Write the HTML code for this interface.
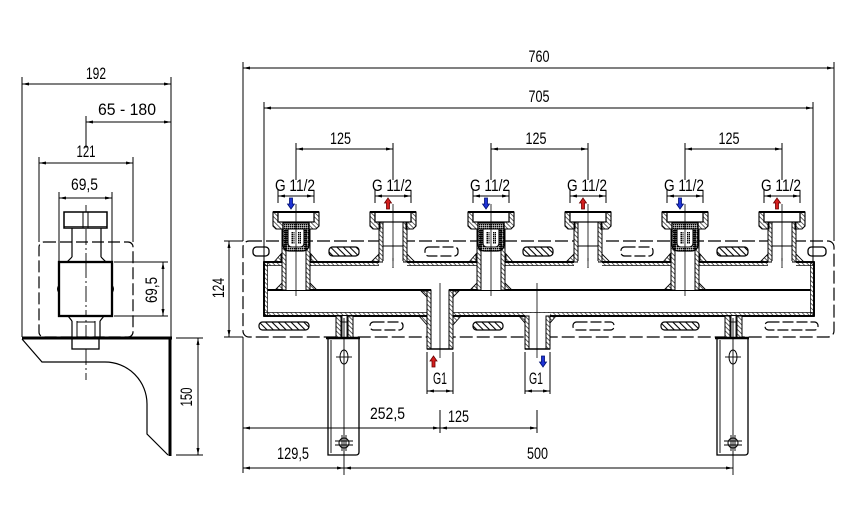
<!DOCTYPE html>
<html><head><meta charset="utf-8">
<style>html,body{margin:0;padding:0;background:#fff}svg{display:block}</style>
</head><body>
<svg width="868" height="506" viewBox="0 0 868 506" xmlns="http://www.w3.org/2000/svg">
<defs>
<pattern id="h" width="3.2" height="3.2" patternUnits="userSpaceOnUse" patternTransform="rotate(-45)"><line x1="0.5" y1="0" x2="0.5" y2="3.2" stroke="#000" stroke-width="0.6"/></pattern>
<pattern id="h2" width="4.5" height="4.5" patternUnits="userSpaceOnUse" patternTransform="rotate(-45)"><line x1="0.5" y1="0" x2="0.5" y2="4.5" stroke="#000" stroke-width="1.1"/></pattern>
<pattern id="dd" width="2" height="2" patternUnits="userSpaceOnUse"><rect width="1.5" height="1.5" fill="#000"/></pattern>
<marker id="a" markerUnits="userSpaceOnUse" markerWidth="7" markerHeight="5" refX="7" refY="2.5" orient="auto-start-reverse"><path d="M0,1 L7,2.5 L0,4 Z" fill="#000"/></marker>

<g id="nut">
  <polygon points="-23,212 -18,212 -18,222 -13,222 -13,229 -20,229 -23,226" fill="url(#h)" stroke="#000" stroke-width="1.1"/>
  <polygon points="23,212 18,212 18,222 13,222 13,229 20,229 23,226" fill="url(#h)" stroke="#000" stroke-width="1.1"/>
  <rect x="-18" y="212" width="36" height="10" fill="#fff" stroke="#000" stroke-width="1.2"/>
  <line x1="-23" y1="212" x2="23" y2="212" stroke="#000" stroke-width="2"/>
</g>

<g id="blue">
  <rect x="-14" y="222" width="28" height="68" fill="#fff"/>
  <polygon points="-15,254 -15,262 -22,262" fill="url(#h)" stroke="#000" stroke-width="0.9"/>
  <polygon points="15,254 15,262 22,262" fill="url(#h)" stroke="#000" stroke-width="0.9"/>
  <polygon points="-14,283 -14,290 -21,290" fill="url(#h)" stroke="#000" stroke-width="0.9"/>
  <polygon points="14,283 14,290 21,290" fill="url(#h)" stroke="#000" stroke-width="0.9"/>
  <rect x="-14" y="229" width="4" height="61" fill="url(#h)" stroke="#000" stroke-width="1"/>
  <rect x="10" y="229" width="4" height="61" fill="url(#h)" stroke="#000" stroke-width="1"/>
  <path d="M-13,223 L13,223 L13,244 Q13,251 6,251 L-6,251 Q-13,251 -13,244 Z" fill="url(#dd)" stroke="#000" stroke-width="1.3"/>
  <path d="M-8,229 L8,229 L8,243 Q8,247 4,247 L-4,247 Q-8,247 -8,243 Z" fill="#fff" stroke="#000" stroke-width="1.1"/>
  <rect x="-5" y="232" width="3.5" height="12" fill="url(#dd)"/>
  <rect x="1.5" y="232" width="3.5" height="12" fill="url(#dd)"/>
  <use href="#nut"/>
  <line x1="0" y1="204" x2="0" y2="296" stroke="#000" stroke-width="0.8"/>
</g>

<g id="red">
  <rect x="-14" y="222" width="28" height="45" fill="#fff"/>
  <polygon points="-14,254 -14,262 -22,262" fill="url(#h)" stroke="#000" stroke-width="0.9"/>
  <polygon points="14,254 14,262 22,262" fill="url(#h)" stroke="#000" stroke-width="0.9"/>
  <rect x="-14" y="222" width="4" height="40" fill="url(#h)" stroke="#000" stroke-width="1"/>
  <rect x="10" y="222" width="4" height="40" fill="url(#h)" stroke="#000" stroke-width="1"/>
  <line x1="-10" y1="246" x2="10" y2="246" stroke="#000" stroke-width="1"/>
  <use href="#nut"/>
  <line x1="0" y1="204" x2="0" y2="268" stroke="#000" stroke-width="0.8"/>
</g>

<g id="sup">
  <rect x="-8" y="316" width="17" height="22" fill="#fff"/>
  <rect x="-8" y="316" width="5" height="22" fill="url(#h)" stroke="#000" stroke-width="1"/>
  <rect x="4" y="316" width="5" height="22" fill="url(#h)" stroke="#000" stroke-width="1"/>
  <line x1="-2" y1="316" x2="-2" y2="338" stroke="#000" stroke-width="0.9"/>
  <line x1="3" y1="316" x2="3" y2="338" stroke="#000" stroke-width="0.9"/>
  <line x1="-3" y1="322" x2="4" y2="322" stroke="#000" stroke-width="0.9"/>
  <path d="M-16,338 L15,338 L15,452 Q15,455 12,455 L-16,455 Z" fill="#fff" stroke="#000" stroke-width="1.3"/>
  <line x1="-18" y1="338" x2="16" y2="338" stroke="#000" stroke-width="2.5"/>
  <line x1="-13" y1="340" x2="-13" y2="453" stroke="#000" stroke-width="0.9"/>
  <ellipse cx="0" cy="357" rx="4" ry="7" fill="none" stroke="#000" stroke-width="1"/>
  <line x1="-8" y1="357" x2="8" y2="357" stroke="#000" stroke-width="0.9"/>
  <circle cx="0" cy="443" r="5" fill="none" stroke="#000" stroke-width="1"/>
  <line x1="-9" y1="441" x2="9" y2="441" stroke="#000" stroke-width="0.9"/>
  <line x1="-9" y1="445" x2="9" y2="445" stroke="#000" stroke-width="0.9"/>
  <line x1="-2" y1="435" x2="-2" y2="451" stroke="#000" stroke-width="0.9"/>
  <line x1="2" y1="435" x2="2" y2="451" stroke="#000" stroke-width="0.9"/>
  <line x1="0" y1="318" x2="0" y2="475" stroke="#000" stroke-width="0.9"/>
</g>
</defs>

<rect width="868" height="506" fill="#fff"/>

<!-- ================= LEFT SIDE VIEW ================= -->
<g stroke="#000" fill="none">
  <line x1="22" y1="77" x2="22" y2="337" stroke-width="1"/>
  <line x1="171" y1="77" x2="171" y2="337" stroke-width="1"/>
  <line x1="86" y1="116" x2="86" y2="148" stroke-width="1"/>
  <line x1="39" y1="157" x2="39" y2="242" stroke-width="1"/>
  <line x1="133" y1="157" x2="133" y2="242" stroke-width="1"/>
  <line x1="59" y1="192" x2="59" y2="262" stroke-width="1"/>
  <line x1="112" y1="192" x2="112" y2="262" stroke-width="1"/>
  <line x1="22" y1="84" x2="171" y2="84" stroke-width="1" marker-start="url(#a)" marker-end="url(#a)"/>
  <line x1="86" y1="122" x2="171" y2="122" stroke-width="1" marker-start="url(#a)" marker-end="url(#a)"/>
  <line x1="39" y1="163" x2="133" y2="163" stroke-width="1" marker-start="url(#a)" marker-end="url(#a)"/>
  <line x1="59" y1="198" x2="112" y2="198" stroke-width="1" marker-start="url(#a)" marker-end="url(#a)"/>
  <rect x="39" y="242" width="94" height="95" rx="5" stroke-width="1.2" stroke-dasharray="12 4"/>
  <line x1="86" y1="205" x2="86" y2="380" stroke-width="0.9" stroke-dasharray="16 3 2 3"/>
  <rect x="64" y="212" width="43" height="16" fill="#fff" stroke-width="1.5"/>
  <line x1="83" y1="212" x2="83" y2="228" stroke-width="1"/>
  <line x1="88" y1="212" x2="88" y2="228" stroke-width="1"/>
  <line x1="64" y1="226.5" x2="107" y2="226.5" stroke-width="0.8"/>
  <line x1="72" y1="228" x2="72" y2="257" stroke-width="1.2"/>
  <line x1="101" y1="228" x2="101" y2="257" stroke-width="1.2"/>
  <line x1="72" y1="257" x2="67" y2="262" stroke-width="1.2"/>
  <line x1="101" y1="257" x2="106" y2="262" stroke-width="1.2"/>
  <rect x="59" y="262" width="53" height="54" fill="#fff" stroke-width="2.3"/>
  <path d="M59,285 Q56,289 59,293" stroke-width="1"/>
  <path d="M112,285 Q115,289 112,293" stroke-width="1"/>
  <line x1="86" y1="262" x2="86" y2="316" stroke-width="0.9" stroke-dasharray="16 3 2 3"/>
  <line x1="68" y1="316" x2="72" y2="321" stroke-width="1.2"/>
  <line x1="104" y1="316" x2="100" y2="321" stroke-width="1.2"/>
  <line x1="72" y1="321" x2="72" y2="338" stroke-width="1.2"/>
  <line x1="100" y1="321" x2="100" y2="338" stroke-width="1.2"/>
  <line x1="77" y1="321" x2="77" y2="338" stroke-width="1"/>
  <line x1="95" y1="321" x2="95" y2="338" stroke-width="1"/>
  <line x1="77" y1="322" x2="95" y2="322" stroke-width="1"/>
  <rect x="72" y="338" width="27" height="11" fill="#fff" stroke-width="1.3"/>
  <line x1="22" y1="338" x2="172" y2="338" stroke-width="3"/>
  <line x1="170" y1="338" x2="170" y2="456" stroke-width="3"/>
  <path d="M22,339 L42,362 L105,362 A42,42 0 0 1 147,404 L147,434 L168,455" stroke-width="1.2"/>
  <line x1="114" y1="262" x2="168" y2="262" stroke-width="1"/>
  <line x1="114" y1="316" x2="168" y2="316" stroke-width="1"/>
  <line x1="163" y1="262" x2="163" y2="316" stroke-width="1" marker-start="url(#a)" marker-end="url(#a)"/>
  <line x1="176" y1="338" x2="203" y2="338" stroke-width="1"/>
  <line x1="176" y1="455" x2="203" y2="455" stroke-width="1"/>
  <line x1="198" y1="338" x2="198" y2="455" stroke-width="1" marker-start="url(#a)" marker-end="url(#a)"/>
</g>

<!-- ================= MAIN VIEW ================= -->
<g stroke="#000" fill="none">
  <rect x="243" y="241" width="591" height="96" rx="6" stroke-width="1.2" stroke-dasharray="13 4"/>
  <rect x="253" y="247" width="16" height="9" rx="3.5" fill="#fff" stroke-width="1.3"/>
  <rect x="329" y="247" width="30" height="9" rx="3.5" fill="url(#h2)" stroke-width="1.2"/>
  <rect x="425" y="247" width="33" height="9" rx="3.5" fill="#fff" stroke-width="1.2" stroke-dasharray="11 3"/>
  <rect x="523" y="247" width="30" height="9" rx="3.5" fill="url(#h2)" stroke-width="1.2"/>
  <rect x="621" y="247" width="32" height="9" rx="3.5" fill="#fff" stroke-width="1.2" stroke-dasharray="11 3"/>
  <rect x="717" y="247" width="31" height="9" rx="3.5" fill="url(#h2)" stroke-width="1.2"/>
  <rect x="808" y="247" width="18" height="9" rx="3.5" fill="#fff" stroke-width="1.3"/>
  <rect x="259" y="322" width="50" height="8" rx="3.5" fill="url(#h2)" stroke-width="1.2"/>
  <rect x="370" y="322" width="33" height="8" rx="3.5" fill="#fff" stroke-width="1.2" stroke-dasharray="11 3"/>
  <rect x="473" y="322" width="30" height="8" rx="3.5" fill="url(#h2)" stroke-width="1.2"/>
  <rect x="573" y="322" width="41" height="8" rx="3.5" fill="#fff" stroke-width="1.2" stroke-dasharray="11 3"/>
  <rect x="661" y="322" width="38" height="8" rx="3.5" fill="url(#h2)" stroke-width="1.2"/>
  <rect x="765" y="322" width="53" height="8" rx="3.5" fill="#fff" stroke-width="1.2" stroke-dasharray="11 3"/>

  <rect x="264" y="262" width="550" height="54" fill="#fff" stroke-width="1.8"/>
  <rect x="264" y="262" width="550" height="3.5" fill="url(#h)" stroke-width="0.7"/>
  <rect x="264" y="312.5" width="550" height="3.5" fill="url(#h)" stroke-width="0.7"/>
  <rect x="264" y="262" width="3.5" height="54" fill="url(#h)" stroke-width="0.7"/>
  <rect x="810.5" y="262" width="3.5" height="54" fill="url(#h)" stroke-width="0.7"/>
  <line x1="264" y1="262" x2="814" y2="262" stroke-width="1.8"/>
  <line x1="264" y1="316" x2="814" y2="316" stroke-width="1.8"/>
  <line x1="264" y1="262" x2="264" y2="316" stroke-width="1.8"/>
  <line x1="814" y1="262" x2="814" y2="316" stroke-width="1.8"/>
  <line x1="267.5" y1="290" x2="810.5" y2="290" stroke-width="2"/>
</g>

<use href="#blue" x="296"/>
<use href="#red" x="393"/>
<use href="#blue" x="491"/>
<use href="#red" x="588"/>
<use href="#blue" x="685"/>
<use href="#red" x="782"/>
<g fill="#fff">
  <rect x="383" y="261" width="20" height="6"/>
  <rect x="578" y="261" width="20" height="6"/>
  <rect x="772" y="261" width="20" height="6"/>
</g>
<g stroke="#000" stroke-width="0.8">
  <line x1="393" y1="258" x2="393" y2="268"/>
  <line x1="588" y1="258" x2="588" y2="268"/>
  <line x1="782" y1="258" x2="782" y2="268"/>
</g>

<g stroke="#000">
  <rect x="427" y="288" width="26" height="61" fill="#fff" stroke="none"/>
  <polygon points="427,291 427,297 421,291" fill="url(#h)" stroke-width="0.9"/>
  <polygon points="453,291 453,297 459,291" fill="url(#h)" stroke-width="0.9"/>
  <polygon points="427,316 427,325 419,316" fill="url(#h)" stroke-width="0.9"/>
  <polygon points="453,316 453,325 461,316" fill="url(#h)" stroke-width="0.9"/>
  <rect x="427" y="290" width="4" height="59" fill="url(#h)" stroke-width="1"/>
  <rect x="449" y="290" width="4" height="59" fill="url(#h)" stroke-width="1"/>
  <line x1="427" y1="349" x2="453" y2="349" stroke-width="1.5"/>
  <line x1="421" y1="290" x2="431" y2="290" stroke-width="2"/>
  <line x1="449" y1="290" x2="459" y2="290" stroke-width="2"/>
  <line x1="440" y1="283" x2="440" y2="358" stroke-width="0.8"/>

  <rect x="525" y="313" width="25" height="36" fill="#fff" stroke="none"/>
  <polygon points="525,316 525,323 519,316" fill="url(#h)" stroke-width="0.9"/>
  <polygon points="550,316 550,323 556,316" fill="url(#h)" stroke-width="0.9"/>
  <rect x="525" y="316" width="4" height="33" fill="url(#h)" stroke-width="1"/>
  <rect x="546" y="316" width="4" height="33" fill="url(#h)" stroke-width="1"/>
  <line x1="525" y1="349" x2="550" y2="349" stroke-width="1.5"/>
  <line x1="537" y1="283" x2="537" y2="358" stroke-width="0.8"/>
</g>

<use href="#sup" x="344"/>
<use href="#sup" x="733"/>

<g stroke="#000" stroke-width="1" fill="none">
  <line x1="243" y1="62" x2="243" y2="241"/>
  <line x1="243" y1="337" x2="243" y2="473"/>
  <line x1="834" y1="62" x2="834" y2="241"/>
  <line x1="243" y1="68" x2="834" y2="68" marker-start="url(#a)" marker-end="url(#a)"/>
  <line x1="264" y1="102" x2="264" y2="262"/>
  <line x1="813" y1="102" x2="813" y2="262"/>
  <line x1="264" y1="108" x2="813" y2="108" marker-start="url(#a)" marker-end="url(#a)"/>
  <line x1="296" y1="143" x2="296" y2="180"/>
  <line x1="393" y1="143" x2="393" y2="180"/>
  <line x1="296" y1="149" x2="393" y2="149" marker-start="url(#a)" marker-end="url(#a)"/>
  <line x1="491" y1="143" x2="491" y2="180"/>
  <line x1="588" y1="143" x2="588" y2="180"/>
  <line x1="491" y1="149" x2="588" y2="149" marker-start="url(#a)" marker-end="url(#a)"/>
  <line x1="685" y1="143" x2="685" y2="180"/>
  <line x1="782" y1="143" x2="782" y2="180"/>
  <line x1="685" y1="149" x2="782" y2="149" marker-start="url(#a)" marker-end="url(#a)"/>
  <g>
    <line x1="278" y1="190" x2="278" y2="203"/><line x1="314" y1="190" x2="314" y2="203"/>
    <line x1="278" y1="196" x2="314" y2="196" marker-start="url(#a)" marker-end="url(#a)"/>
    <line x1="375" y1="190" x2="375" y2="203"/><line x1="411" y1="190" x2="411" y2="203"/>
    <line x1="375" y1="196" x2="411" y2="196" marker-start="url(#a)" marker-end="url(#a)"/>
    <line x1="473" y1="190" x2="473" y2="203"/><line x1="509" y1="190" x2="509" y2="203"/>
    <line x1="473" y1="196" x2="509" y2="196" marker-start="url(#a)" marker-end="url(#a)"/>
    <line x1="570" y1="190" x2="570" y2="203"/><line x1="606" y1="190" x2="606" y2="203"/>
    <line x1="570" y1="196" x2="606" y2="196" marker-start="url(#a)" marker-end="url(#a)"/>
    <line x1="667" y1="190" x2="667" y2="203"/><line x1="703" y1="190" x2="703" y2="203"/>
    <line x1="667" y1="196" x2="703" y2="196" marker-start="url(#a)" marker-end="url(#a)"/>
    <line x1="764" y1="190" x2="764" y2="203"/><line x1="800" y1="190" x2="800" y2="203"/>
    <line x1="764" y1="196" x2="800" y2="196" marker-start="url(#a)" marker-end="url(#a)"/>
  </g>
  <line x1="224" y1="241" x2="243" y2="241"/>
  <line x1="224" y1="337" x2="243" y2="337"/>
  <line x1="229" y1="241" x2="229" y2="337" marker-start="url(#a)" marker-end="url(#a)"/>
  <line x1="427" y1="352" x2="427" y2="394"/><line x1="453" y1="352" x2="453" y2="394"/>
  <line x1="427" y1="391" x2="453" y2="391" marker-start="url(#a)" marker-end="url(#a)"/>
  <line x1="525" y1="352" x2="525" y2="394"/><line x1="550" y1="352" x2="550" y2="394"/>
  <line x1="525" y1="391" x2="550" y2="391" marker-start="url(#a)" marker-end="url(#a)"/>
  <line x1="440" y1="410" x2="440" y2="433"/>
  <line x1="537" y1="410" x2="537" y2="433"/>
  <line x1="243" y1="428" x2="440" y2="428" marker-start="url(#a)" marker-end="url(#a)"/>
  <line x1="440" y1="428" x2="537" y2="428" marker-start="url(#a)" marker-end="url(#a)"/>
  <line x1="243" y1="468" x2="344" y2="468" marker-start="url(#a)" marker-end="url(#a)"/>
  <line x1="344" y1="468" x2="733" y2="468" marker-start="url(#a)" marker-end="url(#a)"/>
</g>

<g stroke-width="0.8" stroke-linejoin="miter">
  <path d="M291,209 L287.5,204 L289.5,204 L289.5,198 L292.5,198 L292.5,204 L294.5,204 Z" fill="#1f33d6" stroke="#001070"/>
  <path d="M388,198 L391.5,203 L389.5,203 L389.5,209 L386.5,209 L386.5,203 L384.5,203 Z" fill="#d41e1e" stroke="#6a0000"/>
  <path d="M486,209 L482.5,204 L484.5,204 L484.5,198 L487.5,198 L487.5,204 L489.5,204 Z" fill="#1f33d6" stroke="#001070"/>
  <path d="M583,198 L586.5,203 L584.5,203 L584.5,209 L581.5,209 L581.5,203 L579.5,203 Z" fill="#d41e1e" stroke="#6a0000"/>
  <path d="M680,209 L676.5,204 L678.5,204 L678.5,198 L681.5,198 L681.5,204 L683.5,204 Z" fill="#1f33d6" stroke="#001070"/>
  <path d="M777,198 L780.5,203 L778.5,203 L778.5,209 L775.5,209 L775.5,203 L773.5,203 Z" fill="#d41e1e" stroke="#6a0000"/>
  <path d="M433.5,356 L437,361 L435,361 L435,367 L432,367 L432,361 L430,361 Z" fill="#d41e1e" stroke="#6a0000"/>
  <path d="M543,367 L539.5,362 L541.5,362 L541.5,356 L544.5,356 L544.5,362 L546.5,362 Z" fill="#1f33d6" stroke="#001070"/>
</g>

<g font-family="'Liberation Sans', sans-serif" font-size="17" text-anchor="middle" fill="#000">
  <text x="96" y="79" textLength="20" lengthAdjust="spacingAndGlyphs">192</text>
  <text x="127" y="115" textLength="58" lengthAdjust="spacingAndGlyphs">65 - 180</text>
  <text x="86" y="157" textLength="19" lengthAdjust="spacingAndGlyphs">121</text>
  <text x="84.5" y="190" textLength="27" lengthAdjust="spacingAndGlyphs">69,5</text>
  <text transform="translate(157,290) rotate(-90)" x="0" y="0" textLength="26" lengthAdjust="spacingAndGlyphs">69,5</text>
  <text transform="translate(192,397) rotate(-90)" x="0" y="0" textLength="19" lengthAdjust="spacingAndGlyphs">150</text>
  <text transform="translate(224,288) rotate(-90)" x="0" y="0" textLength="20" lengthAdjust="spacingAndGlyphs">124</text>

  <text x="539" y="62" textLength="21" lengthAdjust="spacingAndGlyphs">760</text>
  <text x="539" y="102" textLength="21" lengthAdjust="spacingAndGlyphs">705</text>
  <text x="340.5" y="144" textLength="21" lengthAdjust="spacingAndGlyphs">125</text>
  <text x="536" y="144" textLength="21" lengthAdjust="spacingAndGlyphs">125</text>
  <text x="729" y="144" textLength="21" lengthAdjust="spacingAndGlyphs">125</text>

  <text x="295" y="191" textLength="40" lengthAdjust="spacingAndGlyphs">G  11/2</text>
  <text x="392" y="191" textLength="40" lengthAdjust="spacingAndGlyphs">G  11/2</text>
  <text x="490" y="191" textLength="40" lengthAdjust="spacingAndGlyphs">G  11/2</text>
  <text x="587" y="191" textLength="40" lengthAdjust="spacingAndGlyphs">G  11/2</text>
  <text x="684" y="191" textLength="40" lengthAdjust="spacingAndGlyphs">G  11/2</text>
  <text x="781" y="191" textLength="40" lengthAdjust="spacingAndGlyphs">G  11/2</text>

  <text x="440" y="384" textLength="14" lengthAdjust="spacingAndGlyphs">G1</text>
  <text x="536" y="384" textLength="14" lengthAdjust="spacingAndGlyphs">G1</text>

  <text x="387.5" y="419" textLength="35" lengthAdjust="spacingAndGlyphs">252,5</text>
  <text x="458.5" y="422" textLength="21" lengthAdjust="spacingAndGlyphs">125</text>
  <text x="293" y="459" textLength="32" lengthAdjust="spacingAndGlyphs">129,5</text>
  <text x="537.5" y="459" textLength="21" lengthAdjust="spacingAndGlyphs">500</text>
</g>
</svg>
</body></html>
